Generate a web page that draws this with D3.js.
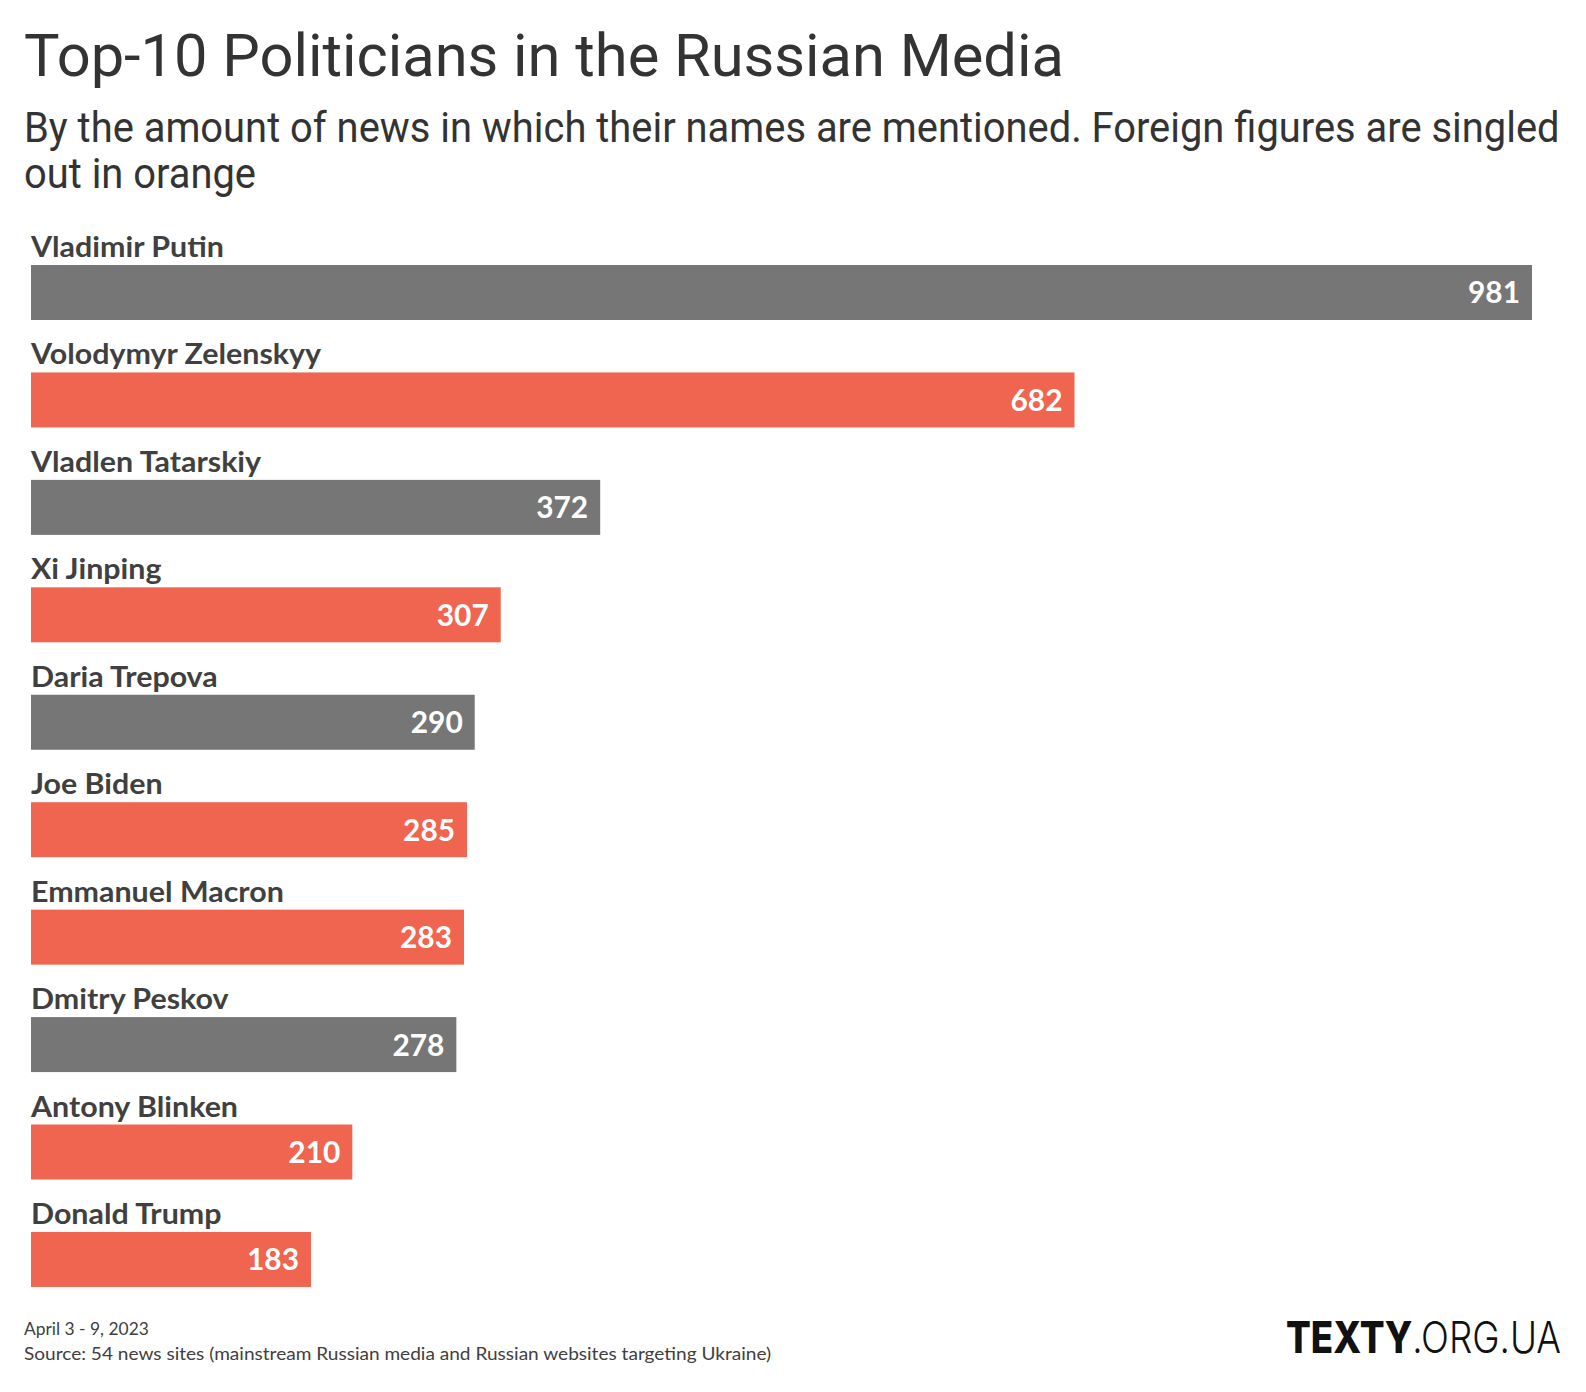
<!DOCTYPE html>
<html>
<head>
<meta charset="utf-8">
<script src="https://cdn.jsdelivr.net/npm/d3@7"></script>
<style>
  html, body { margin: 0; padding: 0; background: #ffffff; }
  svg { display: block; }
</style>
</head>
<body>
<svg id="chart" width="1586" height="1392"></svg>
<script>
// ---- data ----
const names = ["Vladimir Putin", "Volodymyr Zelenskyy", "Vladlen Tatarskiy", "Xi Jinping", "Daria Trepova",
               "Joe Biden", "Emmanuel Macron", "Dmitry Peskov", "Antony Blinken", "Donald Trump"];
const mentions = [981, 682, 372, 307, 290, 285, 283, 278, 210, 183];
const foreign = [false, true, false, true, false, true, true, false, true, true];

const titleText = "Top-10 Politicians in the Russian Media";
const subtitleLines = ["By the amount of news in which their names are mentioned. Foreign figures are singled", "out in orange"];
const footerLines = ["April 3 - 9, 2023", "Source: 54 news sites (mainstream Russian media and Russian websites targeting Ukraine)"];

// ---- drawing ----
const svg = d3.select("#chart");
const GRAY = "#767676", ORANGE = "#EF654F";

function fitX(sel, x0, targetW) {
  const bw = sel.node().getBBox().width;
  const k = targetW / bw;
  sel.attr("transform", `translate(${x0},0) scale(${k},1) translate(${-x0},0)`);
  return k;
}

// title
const title = svg.append("text")
  .attr("x", 24).attr("y", 76)
  .attr("font-family", "Roboto, 'Noto Sans', sans-serif")
  .attr("font-size", 60).attr("fill", "#333333")
  .text(titleText);
fitX(title, 24, 1040);

const subW = [1536, 232];
subtitleLines.forEach((t, i) => {
  const s = svg.append("text")
    .attr("x", 24).attr("y", 142 + i * 46)
    .attr("font-family", "Roboto, 'Noto Sans', sans-serif")
    .attr("font-size", 43).attr("fill", "#333333")
    .text(t);
  fitX(s, 24, subW[i]);
});

// scales
const x = d3.scaleLinear().domain([0, d3.max(mentions)]).range([31, 1532]);
const y = d3.scaleBand().domain(names).range([265, 265 + 9 * 107.44 + 55])
  .paddingInner(1 - 55 / 107.44).paddingOuter(0);

const rows = svg.append("g").selectAll("g").data(names).join("g");

rows.append("rect")
  .attr("x", x(0))
  .attr("y", d => y(d))
  .attr("width", (d, i) => x(mentions[i]) - x(0))
  .attr("height", y.bandwidth())
  .attr("fill", (d, i) => foreign[i] ? ORANGE : GRAY);

const labels = rows.append("text")
  .attr("x", x(0))
  .attr("y", d => y(d) - 8)
  .attr("font-family", "'Source Sans Pro', Lato, sans-serif")
  .attr("font-weight", 700)
  .attr("font-size", 28)
  .attr("fill", "#404040")
  .text(d => d);
// horizontal fit using first label's measured width
{
  const bw = labels.nodes()[0].getBBox().width;
  const k = 194 / bw;
  labels.attr("transform", `translate(${x(0)},0) scale(${k},1) translate(${-x(0)},0)`);
}

const vals = rows.append("text")
  .attr("x", (d, i) => x(mentions[i]) - 12)
  .attr("y", d => y(d) + y.bandwidth() / 2 + 11)
  .attr("text-anchor", "end")
  .attr("font-family", "'Source Sans Pro', Lato, sans-serif")
  .attr("font-weight", 700)
  .attr("font-size", 31)
  .attr("fill", "#ffffff")
  .text((d, i) => mentions[i]);
{
  const bw = vals.nodes()[0].getBBox().width;
  const k = 52 / bw;
  vals.each(function(d, i) {
    const xr = x(mentions[i]) - 12;
    d3.select(this).attr("transform", `translate(${xr},0) scale(${k},1) translate(${-xr},0)`);
  });
}

// footer
const footW = [125, 748];
footerLines.forEach((t, i) => {
  const f = svg.append("text")
    .attr("x", 24).attr("y", 1335 + i * 25)
    .attr("font-family", "'Source Sans Pro', Lato, sans-serif")
    .attr("font-size", 17).attr("fill", "#404040")
    .text(t);
  fitX(f, 24, footW[i]);
});

// logo
const logo = svg.append("text")
  .attr("x", 1286).attr("y", 1353)
  .attr("font-family", "Inter, Roboto, sans-serif")
  .attr("font-size", 44).attr("fill", "#111111");
logo.append("tspan").attr("font-weight", 800).text("TEXTY");
logo.append("tspan").attr("font-weight", 300).text(".ORG.UA");
fitX(logo, 1286, 275);
</script>
</body>
</html>
